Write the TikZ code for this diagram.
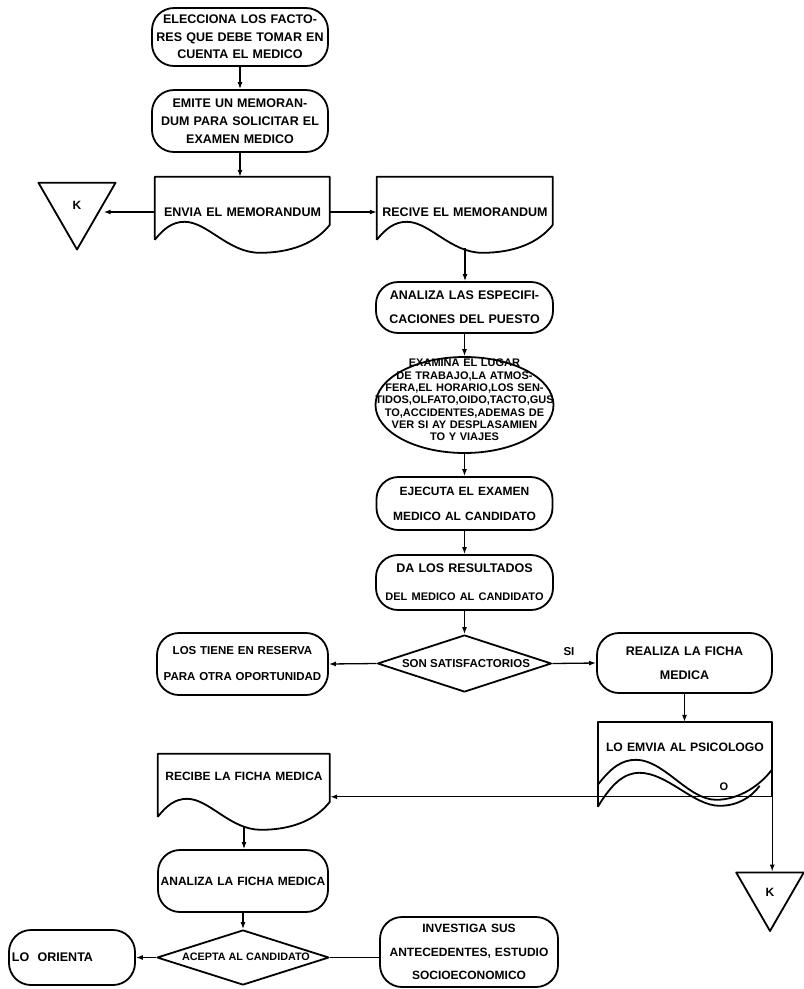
\documentclass[tikz,border=0pt]{standalone}
\usepackage{fontspec}
\setmainfont{Liberation Sans}
\usetikzlibrary{shapes.geometric,arrows.meta,calc}

% bold lettering at a given size and line spacing
\newcommand\fs[2]{\fontsize{#1pt}{#2pt}\selectfont\bfseries}

% document symbol: flat top, wavy bottom; #1 node, #2 width
\newcommand\docoutline[2]{%
  \begin{scope}[shift={(#1.north west)}]
    \draw[shapeline] (0,63) -- (0,0) -- (#2,0) -- (#2,48)
      .. controls (0.92*#2,66) and (0.78*#2,76) .. (0.6*#2,76)
      .. controls (0.42*#2,76) and (0.3*#2,45) .. (0.17*#2,45)
      .. controls (0.1*#2,45) and (0.05*#2,52) .. (0,63);
  \end{scope}}

\begin{document}
\begin{tikzpicture}[x=1pt,y=-1pt,
  shapeline/.style={line width=1.8pt, line join=round},
  term/.style={draw, shapeline, rectangle, rounded corners=22pt, inner sep=0pt, align=center},
  doc/.style={inner sep=0pt, align=center},
  dia/.style={draw, shapeline, diamond, inner sep=0pt},
  tri/.style={draw, shapeline, regular polygon, regular polygon sides=3,
              shape border rotate=180, inner sep=0pt},
  conn/.style={line width=1.3pt},
  arr/.style={conn, -{Latex[length=7pt,width=5pt]}},
]
\fill[white] (0,0) rectangle (804,989);
\useasboundingbox (0,0) rectangle (804,989);

% ---- top column ----
\node[term, minimum width=176pt, minimum height=58pt, text width=176pt, font=\fs{12.5}{17.5}]
  (b1) at (240,37) {ELECCIONA LOS FACTO-\\RES QUE DEBE TOMAR EN\\CUENTA EL MEDICO};
\node[term, minimum width=176pt, minimum height=62pt, text width=176pt, font=\fs{12.5}{18}]
  (b2) at (240,121) {EMITE UN MEMORAN-\\DUM PARA SOLICITAR EL\\EXAMEN MEDICO};

\node[doc, minimum width=175pt, minimum height=70pt, text width=175pt, font=\fs{12.5}{15}]
  (envia) at (242.5,212) {ENVIA EL MEMORANDUM};
\docoutline{envia}{175}
\node[doc, minimum width=176pt, minimum height=70pt, text width=176pt, font=\fs{12.5}{15}]
  (recive) at (465,212) {RECIVE EL MEMORANDUM};
\docoutline{recive}{176}

\node[tri, minimum size=89pt, font=\fs{12}{14}] (k1) at (77,205) {K};

% ---- middle column ----
\node[term, minimum width=177pt, minimum height=51pt, text width=177pt, font=\fs{12.5}{24}]
  (anaesp) at (464.5,307.5) {ANALIZA LAS ESPECIFI-\\CACIONES DEL PUESTO};
\node[draw, shapeline, ellipse, minimum width=178pt, minimum height=96pt, inner sep=0pt]
  (exa) at (464.5,405) {};
\node[align=center, text width=200pt, inner sep=0pt, font=\fs{11}{12.3}]
  (exatxt) at (464.5,400) {EXAMINA EL LUGAR\\DE TRABAJO,LA ATMOS-\\FERA,EL HORARIO,LOS SEN-\\TIDOS,OLFATO,OIDO,TACTO,GUS\\TO,ACCIDENTES,ADEMAS DE\\VER SI AY DESPLASAMIEN\\TO Y VIAJES};
\node[term, minimum width=176pt, minimum height=53pt, text width=176pt, font=\fs{12}{25}]
  (ejec) at (464.5,503.5) {EJECUTA EL EXAMEN\\MEDICO AL CANDIDATO};
\node[term, minimum width=177pt, minimum height=55pt, text width=177pt, font=\fs{12.5}{28}]
  (da) at (464.5,582.5) {DA LOS RESULTADOS\\\fs{11}{28}DEL MEDICO AL CANDIDATO};

% ---- first decision ----
\node[dia, minimum width=174pt, minimum height=57pt] (d1) at (464.5,663.5) {};
\node[inner sep=0pt, font=\fs{11.5}{14}] (d1t) at (466,664) {SON SATISFACTORIOS};
\node[inner sep=0pt, font=\fs{11.5}{14}] (si) at (569,652) {SI};
\node[term, minimum width=171pt, minimum height=62pt, text width=171pt, font=\fs{11.5}{26}]
  (tiene) at (242.5,664) {LOS TIENE EN RESERVA\\PARA OTRA OPORTUNIDAD};
\node[term, minimum width=175pt, minimum height=60pt, text width=175pt, font=\fs{12.5}{24}]
  (realiza) at (684.5,663) {REALIZA LA FICHA\\MEDICA};

% ---- copy sent to the psychologist ----
\node[doc, minimum width=174pt, minimum height=50pt, text width=174pt, font=\fs{12.2}{15}]
  (emvia) at (685,747) {LO EMVIA AL PSICOLOGO};
\coordinate (o1) at ($(emvia.north east)+(0,75)$);
\draw[shapeline] ($(emvia.north west)+(0,85)$) -- (emvia.north west) -- (emvia.north east) -- (o1);
\begin{scope}[shift={(emvia.north west)}]
  \draw[shapeline] (0,63) .. controls (0.08*174,45) and (0.14*174,38) .. (0.22*174,38)
    .. controls (0.38*174,38) and (0.52*174,78) .. (0.68*174,78)
    .. controls (0.82*174,78) and (0.94*174,62) .. (174,48);
  \draw[shapeline] (0,85) .. controls (0.08*174,62) and (0.15*174,51) .. (0.24*174,51)
    .. controls (0.4*174,51) and (0.55*174,84) .. (0.7*174,84)
    .. controls (0.8*174,84) and (0.88*174,76) .. (0.93*174,64);
\end{scope}
\node[inner sep=0pt, font=\fs{11}{13}] (olabel) at (724,787) {O};
\node[tri, minimum size=78pt, font=\fs{12}{14}] (k2) at (770,892) {K};

% ---- bottom column ----
\node[doc, minimum width=172pt, minimum height=44pt, text width=172pt, font=\fs{12}{15}]
  (recibe) at (244,776) {RECIBE LA FICHA MEDICA};
\docoutline{recibe}{172}
\node[term, minimum width=170pt, minimum height=62pt, text width=170pt, font=\fs{12}{15}]
  (anaficha) at (243,881) {ANALIZA LA FICHA MEDICA};
\node[dia, minimum width=172pt, minimum height=55pt] (d2) at (243,957.5) {};
\node[inner sep=0pt, font=\fs{10.8}{13}] (d2t) at (246,957) {ACEPTA AL CANDIDATO};
\node[term, minimum width=126pt, minimum height=55pt, text width=120pt, align=left, font=\fs{12.5}{15}]
  (orienta) at (72,957.5) {LO\ \ ORIENTA};
\node[term, minimum width=178pt, minimum height=70pt, text width=178pt, font=\fs{12}{23.5}]
  (investiga) at (469,952) {INVESTIGA SUS\\ANTECEDENTES, ESTUDIO\\SOCIOECONOMICO};

% ---- connectors ----
\draw[arr] (b1.south) -- (b1.south |- b2.north);
\draw[arr] (b2.south) -- (b2.south |- envia.north);
\draw[arr] (envia.west) -- (k1.east |- envia.west);
\draw[arr] (envia.east) -- (recive.west);
\coordinate (reciveW) at ($(recive.north)+(0,71)$);
\draw[arr] (reciveW) -- (reciveW |- anaesp.north);
\draw[arr] (anaesp.south) -- (anaesp.south |- exa.north);
\draw[arr] (exa.south) -- (exa.south |- ejec.north);
\draw[arr] (ejec.south) -- (da.north);
\draw[arr] (da.south) -- (d1.north);
\draw[arr] (d1.west) -- (tiene.east);
\draw[arr] (d1.east) -- (realiza.west);
\draw[arr] (realiza.south) -- (realiza.south |- emvia.north);
\draw[arr] (o1) -- (o1 |- k2.north);
\draw[arr] (o1) -- (o1 -| recibe.east);
\coordinate (recibeW) at ($(recibe.north)+(0,72)$);
\draw[arr] (recibeW) -- (recibeW |- anaficha.north);
\draw[arr] (anaficha.south) -- (d2.north);
\draw[arr] (d2.west) -- (orienta.east);
\draw[conn] (d2.east) -- (d2.east -| investiga.west);
\end{tikzpicture}
\end{document}
